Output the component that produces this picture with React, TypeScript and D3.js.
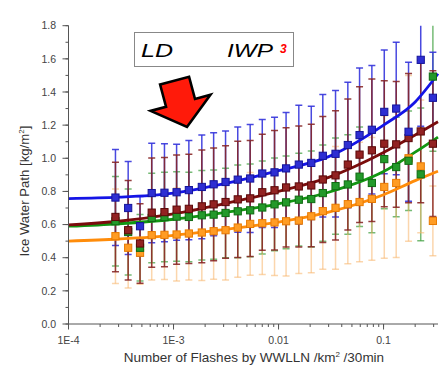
import React from 'react';
import * as d3 from 'd3';

// bin centres, flashes / km^2 / 30 min
const flashes = [
  2.8e-4, 3.7e-4, 4.8e-4, 6.2e-4, 8.2e-4, 1.07e-3, 1.4e-3, 1.86e-3, 2.41e-3,
  3.13e-3, 4.09e-3, 5.37e-3, 7.0e-3, 9.16e-3, 1.18e-2, 1.56e-2, 2.05e-2,
  2.64e-2, 3.49e-2, 4.57e-2, 5.91e-2, 7.74e-2, 0.1016, 0.132, 0.173, 0.226, 0.295,
];

const iwpBlue = [
  0.763, 0.7, 0.59, 0.79, 0.792, 0.795, 0.808, 0.827, 0.843, 0.857, 0.871, 0.878,
  0.908, 0.915, 0.939, 0.962, 0.972, 1.015, 1.027, 1.08, 1.14, 1.172, 1.28, 1.3,
  1.16, 1.594, 1.365,
];
const errBlue = [
  0.29, 0.28, 0.18, 0.3, 0.296, 0.29, 0.3, 0.313, 0.311, 0.307, 0.317, 0.326,
  0.326, 0.333, 0.337, 0.358, 0.342, 0.37, 0.382, 0.379, 0.405, 0.388, 0.374, 0.4,
  0.419, 0.4, 0.275,
];

const iwpMaroon = [
  0.646, 0.566, 0.486, 0.672, 0.675, 0.69, 0.695, 0.71, 0.722, 0.736, 0.752, 0.758,
  0.795, 0.807, 0.824, 0.83, 0.836, 0.872, 0.897, 0.962, 1.022, 1.048, 1.088, 1.084,
  1.122, 1.162, 1.088,
];
const errMaroon = [
  0.33, 0.3, 0.24, 0.33, 0.33, 0.33, 0.33, 0.34, 0.34, 0.34, 0.35, 0.35, 0.35, 0.36,
  0.36, 0.365, 0.37, 0.38, 0.39, 0.395, 0.41, 0.43, 0.38, 0.38, 0.39, 0.43, 0.44,
];

const iwpGreen = [
  0.62, 0.555, 0.46, 0.64, 0.645, 0.648, 0.646, 0.656, 0.66, 0.67, 0.68, 0.686,
  0.703, 0.722, 0.734, 0.75, 0.754, 0.79, 0.832, 0.842, 0.889, 0.851, 0.995, 0.947,
  0.985, 0.903, 1.493,
];
const errGreen = [
  0.27, 0.26, 0.2, 0.27, 0.27, 0.27, 0.27, 0.27, 0.27, 0.27, 0.28, 0.28, 0.28, 0.28,
  0.28, 0.28, 0.29, 0.29, 0.29, 0.3, 0.3, 0.3, 0.3, 0.3, 0.3, 0.4, 0.45,
];

const iwpOrange = [
  0.53, 0.46, 0.43, 0.536, 0.538, 0.54, 0.546, 0.552, 0.56, 0.566, 0.582, 0.604,
  0.608, 0.613, 0.62, 0.624, 0.65, 0.681, 0.701, 0.723, 0.736, 0.755, 0.827, 0.851,
  1.0, 0.951, 0.622,
];
const errOrange = [
  0.285, 0.243, 0.19, 0.27, 0.27, 0.28, 0.28, 0.29, 0.29, 0.3, 0.3, 0.31, 0.31, 0.32,
  0.33, 0.32, 0.34, 0.35, 0.37, 0.36, 0.36, 0.37, 0.43, 0.45, 0.5, 0.4, 0.21,
];

// fitted curves
const fitFlashes = [1e-4, 3e-4, 1e-3, 3e-3, 1e-2, 3e-2, 0.1, 0.2, 0.33];
const fitBlue = [0.757, 0.765, 0.79, 0.845, 0.925, 1.01, 1.2, 1.34, 1.51];
const fitMaroon = [0.598, 0.62, 0.665, 0.725, 0.8, 0.885, 1.035, 1.14, 1.22];
const fitGreen = [0.59, 0.605, 0.632, 0.672, 0.725, 0.795, 0.92, 1.037, 1.128];
const fitOrange = [0.5, 0.513, 0.535, 0.57, 0.615, 0.675, 0.78, 0.865, 0.922];

const yTickValues = [0, 0.2, 0.4, 0.6, 0.8, 1.0, 1.2, 1.4, 1.6, 1.8];
const yTickLabels = ['0.0', '0.2', '0.4', '0.6', '0.8', '1.0', '1.2', '1.4', '1.6', '1.8'];
const xTickValues = [1e-4, 1e-3, 1e-2, 1e-1];
const xTickLabels = ['1E-4', '1E-3', '0.01', '0.1'];

const W = 444;
const H = 376;
const FONT = 'Liberation Sans, Arial, sans-serif';

const x = d3.scaleLog().domain([1e-4, 0.33]).range([68.5, 438]);
const y = d3.scaleLinear().domain([0, 1.8]).range([324, 25.7]);

const series = [
  { key: 'green', vals: iwpGreen, errs: errGreen, fit: fitGreen, bar: '#3c9e3c', barOp: 0.7, line: '#129612', fill: '#23992a', edge: '#0f6a12' },
  { key: 'orange', vals: iwpOrange, errs: errOrange, fit: fitOrange, bar: '#f7b56a', barOp: 0.55, line: '#ff8c0a', fill: '#ff9c24', edge: '#e87a00' },
  { key: 'blue', vals: iwpBlue, errs: errBlue, fit: fitBlue, bar: '#3535dc', barOp: 0.9, line: '#1414e6', fill: '#2e2ed2', edge: '#14149a' },
  { key: 'maroon', vals: iwpMaroon, errs: errMaroon, fit: fitMaroon, bar: '#862424', barOp: 0.88, line: '#7a0c0c', fill: '#922222', edge: '#5a0808' },
];
const markerOrder = ['orange', 'green', 'maroon', 'blue'];

const fitLine = d3
  .line<number>()
  .x((_, i) => x(fitFlashes[i]))
  .y((d) => y(d))
  .curve(d3.curveMonotoneX);

const ArrowMark = () => {
  // arrow pointing down, tip at origin
  const pts = [
    [-15, -48],
    [15, -48],
    [15, -25],
    [31, -25],
    [0, 0],
    [-31, -25],
    [-15, -25],
  ];
  return (
    <g transform="translate(187,127) rotate(-15)">
      <polygon
        points={pts.map((p) => p.join(',')).join(' ')}
        fill="#ff1a0a"
        stroke="#000"
        strokeWidth={2.6}
        strokeLinejoin="miter"
      />
    </g>
  );
};

export default function App() {
  const minorX = x.ticks().filter((t) => t >= 1e-4 && t <= 0.33);
  const minorY = d3.range(0, 19).map((i) => i / 10);

  return (
    <svg
      width={W}
      height={H}
      viewBox={`0 0 ${W} ${H}`}
      style={{ position: 'absolute', left: 0, top: 0, background: '#fff' }}
      fontFamily={FONT}
    >
      <defs>
        <clipPath id="plot">
          <rect x={68.5} y={25.7} width={W - 68.5} height={324 - 25.7} />
        </clipPath>
      </defs>

      {/* error bars */}
      <g clipPath="url(#plot)">
        {series.map((s) => (
          <g key={s.key} stroke={s.bar} strokeOpacity={s.barOp} strokeWidth={1.5}>
            {flashes.map((f, i) => {
              const cx = x(f);
              const top = y(s.vals[i] + s.errs[i]);
              const bot = y(s.vals[i] - s.errs[i]);
              return (
                <g key={i}>
                  <line x1={cx} x2={cx} y1={top} y2={bot} />
                  <line x1={cx - 3.5} x2={cx + 3.5} y1={top} y2={top} />
                  <line x1={cx - 3.5} x2={cx + 3.5} y1={bot} y2={bot} />
                </g>
              );
            })}
          </g>
        ))}

        {/* fits */}
        {series.map((s) => (
          <path key={s.key} d={fitLine(s.fit) || ''} fill="none" stroke={s.line} strokeWidth={2.8} />
        ))}

        {/* markers */}
        {markerOrder.map((k) => {
          const s = series.find((d) => d.key === k)!;
          return (
            <g key={k}>
              {flashes.map((f, i) => (
                <rect
                  key={i}
                  x={x(f) - 3.6}
                  y={y(s.vals[i]) - 3.6}
                  width={7.2}
                  height={7.2}
                  fill={s.fill}
                  stroke={s.edge}
                  strokeWidth={1}
                />
              ))}
            </g>
          );
        })}
      </g>

      {/* y axis */}
      <g stroke="#555" strokeWidth={1}>
        <line x1={68.5} x2={68.5} y1={y(1.8)} y2={324} />
        {minorY.map((v) => (
          <line key={v} x1={68.5} x2={65.5} y1={y(v)} y2={y(v)} />
        ))}
        {yTickValues.map((v) => (
          <line key={v} x1={68.5} x2={62.5} y1={y(v)} y2={y(v)} />
        ))}
      </g>
      {yTickValues.map((v, i) => (
        <text key={v} x={56} y={y(v)} dy="0.35em" textAnchor="end" fontSize={10.5} fill="#444">
          {yTickLabels[i]}
        </text>
      ))}

      {/* x axis */}
      <g stroke="#555" strokeWidth={1}>
        <line x1={68.5} x2={438} y1={324} y2={324} />
        {minorX.map((t) => (
          <line key={t} x1={x(t)} x2={x(t)} y1={324} y2={327} />
        ))}
        {xTickValues.map((t) => (
          <line key={t} x1={x(t)} x2={x(t)} y1={324} y2={329.5} />
        ))}
      </g>
      {xTickValues.map((t, i) => (
        <text key={t} x={x(t)} y={343.5} textAnchor="middle" fontSize={10.5} fill="#444">
          {xTickLabels[i]}
        </text>
      ))}

      {/* axis titles */}
      <text x={254} y={361.5} textAnchor="middle" fontSize={13.5} fill="#333">
        Number of Flashes by WWLLN /km
        <tspan dy={-5} fontSize={8}>2</tspan>
        <tspan dy={5}> /30min</tspan>
      </text>
      <text transform="translate(29,191) rotate(-90)" textAnchor="middle" fontSize={13.2} fill="#333">
        Ice Water Path [kg/m
        <tspan dy={-5} fontSize={8}>2</tspan>
        <tspan dy={5}>]</tspan>
      </text>

      {/* legend box */}
      <rect x={134.5} y={32.5} width={159} height={34} fill="#fff" stroke="#888" strokeWidth={1} />
      <text x={141} y={57.3} fontSize={18} fontStyle="italic" fill="#000" textLength={32} lengthAdjust="spacingAndGlyphs">
        LD
      </text>
      <text x={227} y={57.3} fontSize={18} fontStyle="italic" fill="#000" textLength={46} lengthAdjust="spacingAndGlyphs">
        IWP
      </text>
      <text x={280} y={52.5} fontSize={12} fontWeight="bold" fontStyle="italic" fill="#ff0000">
        3
      </text>

      <ArrowMark />
    </svg>
  );
}
